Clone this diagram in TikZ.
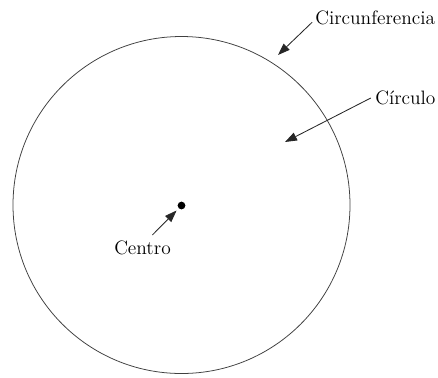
\documentclass[tikz,border=0pt]{standalone}
\usepackage{fontspec}
\usetikzlibrary{arrows.meta}
\begin{document}
\begin{tikzpicture}[x=.025cm,y=-.025cm,line width=.45pt,font=\fontsize{13.8}{16}\selectfont,
  pointer/.style={draw=black!85,line width=.6pt,-{Triangle[length=8.5pt,width=6pt]}},
  label/.style={inner sep=0pt}]
\useasboundingbox (0,0) rectangle (438,377);
\draw[black!75,line width=.55pt] (181.5,205) circle (168.5);
\node[circle,fill,inner sep=0pt,minimum size=5.5pt] (dot) at (181.5,205.5) {};
\node[label,anchor=west] (circunf) at (315,18) {Circunferencia};
\node[label,anchor=west] (circulo) at (375,98) {Círculo};
\node[label] (centro) at (142.5,248) {Centro};
\coordinate (tipA) at (278,55);\coordinate (tipB) at (285,142);
\draw[pointer] ([xshift=-2pt,yshift=-3pt]circunf.west)--(tipA);
\draw[pointer] ([xshift=-3pt]circulo.west)--(tipB);
\draw[pointer,shorten >=2pt] ([xshift=7pt,yshift=4pt]centro.north)--(dot);
\end{tikzpicture}
\end{document}
